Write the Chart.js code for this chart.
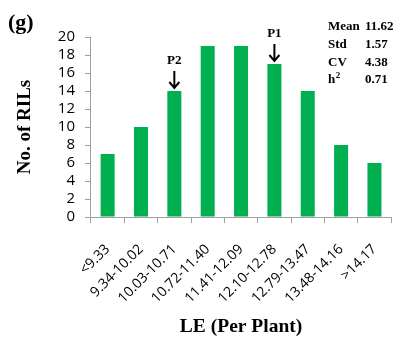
<!DOCTYPE html>
<html>
<head>
<meta charset="utf-8">
<script src="https://cdn.jsdelivr.net/npm/chart.js@4/dist/chart.umd.min.js"></script>
<style>
  html, body { margin: 0; padding: 0; background: #fff; }
  #wrap { width: 405px; height: 339px; position: relative; }
</style>
</head>
<body>
<div id="wrap"><canvas id="c" width="405" height="339"></canvas></div>
<script>
// LE class intervals (per plant) and number of RILs in each class
const categories = ['<9.33', '9.34-10.02', '10.03-10.71', '10.72-11.40', '11.41-12.09',
                    '12.10-12.78', '12.79-13.47', '13.48-14.16', '>14.17'];
const rilCounts = [7, 10, 14, 19, 19, 17, 14, 8, 6];
const yTicks = [0, 2, 4, 6, 8, 10, 12, 14, 16, 18, 20];

// Parent markers: label and the category index they point to
const parentLabels = ['P2', 'P1'];
const parentIndex = [2, 5];

// Summary statistics
const statNames = ['Mean', 'Std', 'CV', 'h2'];
const statValues = ['11.62', '1.57', '4.38', '0.71'];

const serif = '"Liberation Serif", "DejaVu Serif", serif';
const sans = '"Open Sans", "Liberation Sans", sans-serif';
const axisGray = '#a0a0a0';

const extras = {
  id: 'extras',
  afterDatasetsDraw(chart) {
    const ctx = chart.ctx;
    const meta = chart.getDatasetMeta(0);
    ctx.save();
    // panel letter
    ctx.fillStyle = '#000';
    ctx.font = 'bold 22px ' + serif;
    ctx.textAlign = 'left';
    ctx.textBaseline = 'middle';
    ctx.fillText('(g)', 8, 23);

    // parent arrows above bars
    parentIndex.forEach((idx, k) => {
      const bar = meta.data[idx];
      const x = bar.x, top = bar.y;
      ctx.fillStyle = '#000';
      ctx.font = 'bold 13px ' + serif;
      ctx.textAlign = 'center';
      ctx.textBaseline = 'middle';
      ctx.fillText(parentLabels[k], x, top - 30);
      ctx.strokeStyle = '#000';
      ctx.lineWidth = 2;
      ctx.beginPath();
      ctx.moveTo(x, top - 20);
      ctx.lineTo(x, top - 3);
      ctx.moveTo(x - 5, top - 9);
      ctx.lineTo(x, top - 3);
      ctx.lineTo(x + 5, top - 9);
      ctx.stroke();
    });

    // statistics block
    ctx.font = 'bold 13px ' + serif;
    ctx.textAlign = 'left';
    ctx.textBaseline = 'middle';
    const sx = 328, vx = 365;
    statNames.forEach((n, i) => {
      const y = 27 + i * 17.7;
      if (n === 'h2') {
        ctx.fillText('h', sx, y);
        const w = ctx.measureText('h').width;
        ctx.font = 'bold 9px ' + serif;
        ctx.fillText('2', sx + w + 0.5, y - 4);
        ctx.font = 'bold 13px ' + serif;
      } else {
        ctx.fillText(n, sx, y);
      }
      ctx.fillText(statValues[i], vx, y);
    });
    ctx.restore();
  }
};

new Chart(document.getElementById('c'), {
  type: 'bar',
  data: {
    labels: categories,
    datasets: [{
      data: rilCounts,
      backgroundColor: '#00b050',
      borderWidth: 0,
      categoryPercentage: 1.0,
      barPercentage: 0.42
    }]
  },
  options: {
    responsive: false,
    animation: false,
    devicePixelRatio: 1,
    layout: { padding: { top: 37, right: 12, left: 14, bottom: 0 } },
    plugins: { legend: { display: false }, tooltip: { enabled: false } },
    scales: {
      x: {
        afterFit(scale) { scale.height = 122; },
        border: { color: axisGray, width: 1 },
        grid: { offset: true, drawOnChartArea: false, color: axisGray, tickLength: 6 },
        ticks: {
          color: '#000',
          font: { family: sans, size: 14 },
          minRotation: 45, maxRotation: 45,
          autoSkip: false, padding: 18
        },
        title: {
          display: true,
          text: 'LE (Per Plant)',
          color: '#000',
          font: { family: serif, size: 19.5, weight: 'bold' },
          padding: { top: 0, bottom: 0 }
        }
      },
      y: {
        min: 0, max: 20,
        afterBuildTicks(axis) { axis.ticks = yTicks.map(v => ({ value: v })); },
        border: { color: axisGray, width: 1 },
        grid: { drawOnChartArea: false, color: axisGray, tickLength: 6 },
        ticks: {
          color: '#000',
          font: { family: sans, size: 15 },
          autoSkip: false,
          padding: 10
        },
        title: {
          display: true,
          text: 'No. of RILs',
          color: '#000',
          font: { family: serif, size: 19, weight: 'bold' },
          padding: { top: 0, bottom: 11 }
        }
      }
    }
  },
  plugins: [extras]
});
</script>
</body>
</html>
